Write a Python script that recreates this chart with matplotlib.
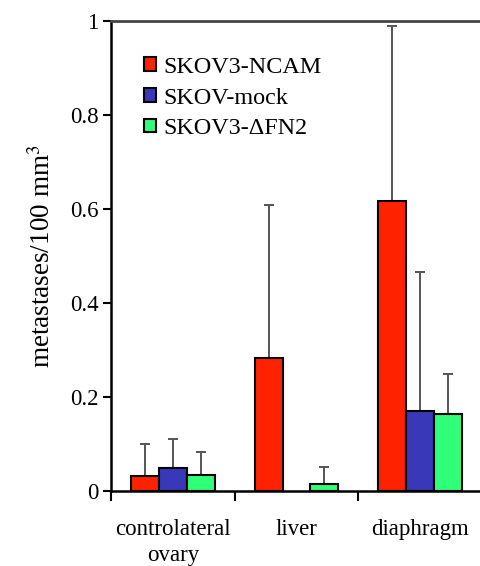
import matplotlib
matplotlib.use("Agg")
import matplotlib.pyplot as plt
import numpy as np
from matplotlib.patches import Patch

# ---------------------------------------------------------------------------
# Data (metastases per 100 mm3, mean + upper SD)
# ---------------------------------------------------------------------------
categories = ["controlateral\novary", "liver", "diaphragm"]
series_names = ["SKOV3-NCAM", "SKOV-mock", "SKOV3-\u0394FN2"]
series_colors = ["#ff2200", "#3838b8", "#30ff78"]

ncam_mean = [0.032, 0.283, 0.617]
ncam_err = [0.068, 0.325, 0.372]
mock_mean = [0.049, 0.0, 0.171]
mock_err = [0.061, 0.0, 0.294]
dfn2_mean = [0.034, 0.014, 0.164]
dfn2_err = [0.050, 0.037, 0.086]

means = [ncam_mean, mock_mean, dfn2_mean]
errs = [ncam_err, mock_err, dfn2_err]

plt.rcParams["font.family"] = ["Liberation Serif", "DejaVu Serif"]
plt.rcParams["mathtext.fontset"] = "stix"

fig = plt.figure(figsize=(4.8, 5.66), dpi=100)
ax = fig.add_axes([111 / 480, 75 / 566, 371 / 480, 470 / 566])

bw = 0.225
x = np.arange(len(categories)) + 0.5
for i, (m, e, c) in enumerate(zip(means, errs, series_colors)):
    xs = x + (i - 1) * bw
    for xi, mi, ei in zip(xs, m, e):
        if mi <= 0:
            continue
        ax.bar(xi, mi, width=bw, color=c, edgecolor="black", linewidth=1.5, zorder=3)
        ax.errorbar(xi, mi, yerr=[[0], [ei]], fmt="none", ecolor="#555555",
                    elinewidth=1.4, capsize=3.3, capthick=1.4, zorder=2)

ax.set_xlim(0, 3)
ax.set_ylim(0, 1)
ax.set_yticks([0, 0.2, 0.4, 0.6, 0.8, 1])
ax.set_yticklabels(["0", "0.2", "0.4", "0.6", "0.8", "1"], fontsize=16.5)
ax.set_xticks([0, 1, 2, 3])
ax.set_xticklabels([])
ax.set_xticks(x, minor=True)
ax.set_xticklabels(categories, minor=True, fontsize=16.5, linespacing=1.3)
ax.tick_params(axis="x", which="minor", length=0, pad=20)
ax.tick_params(axis="x", which="major", length=7, width=1.5, direction="out")
ax.tick_params(axis="y", length=6, width=1.5, direction="out", pad=3)

ax.spines["right"].set_visible(False)
ax.spines["left"].set_linewidth(1.8)
ax.spines["bottom"].set_linewidth(1.8)
ax.spines["top"].set_color("#444444")
ax.spines["top"].set_linewidth(2)

ax.set_ylabel("metastases/100 mm$^3$", fontsize=19.5, labelpad=10)

handles = [Patch(facecolor=c, edgecolor="black", linewidth=1.5) for c in series_colors]
ax.legend(handles, series_names, loc="upper left", bbox_to_anchor=(0.03, 0.97),
          frameon=False, fontsize=17.4, handlelength=0.5, handleheight=0.5,
          handletextpad=0.3, labelspacing=0.4)

fig.savefig("out.png", dpi=100)
